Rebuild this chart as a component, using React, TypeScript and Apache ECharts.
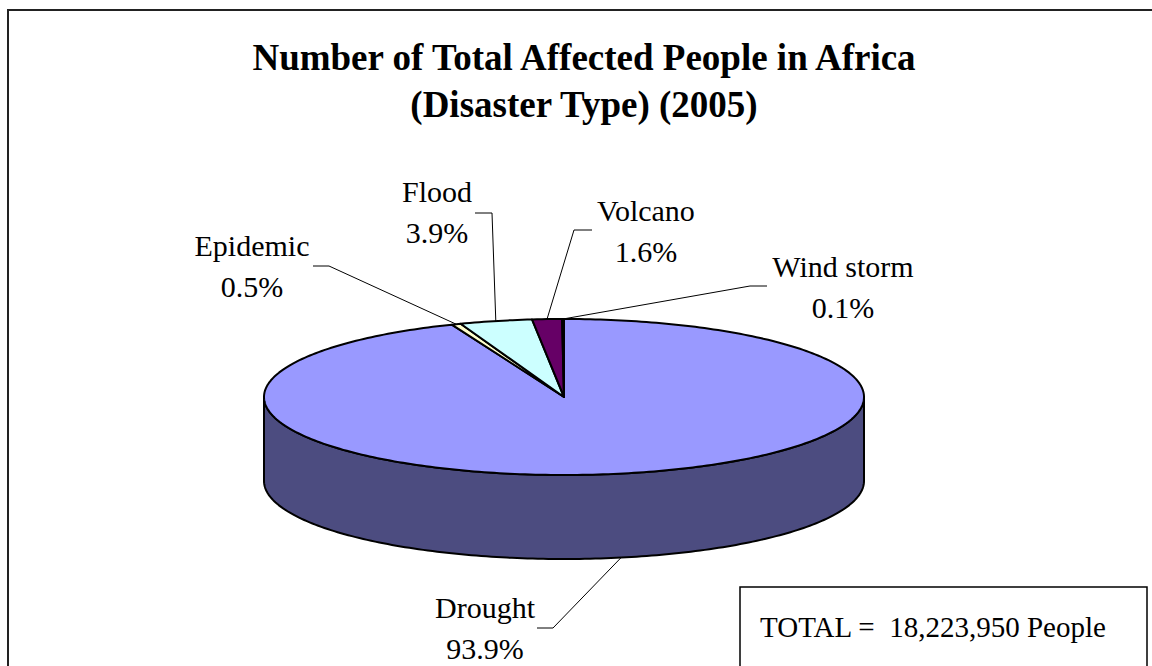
import React, { useEffect, useRef } from "react";
import * as echarts from "echarts";

// ---- data ----
const categories = ["Drought", "Epidemic", "Flood", "Volcano", "Wind storm"];
const shares = [93.9, 0.5, 3.9, 1.6, 0.1];
const totalPeople = 18223950;
const titleLines = ["Number of Total Affected People in Africa", "(Disaster Type) (2005)"];

// ---- styles / layout ----
const topColors = ["#9999FF", "#FFFFCC", "#CCFFFF", "#660066", "#FF8080"];
const sideColors = ["#4C4C80", "#80806A", "#6A8080", "#330033", "#804040"];
const CX = 564, CY = 397, RX = 300, RY = 78, DEPTH = 84;
const labelCenters = [[485, 628], [252, 266], [437, 212], [646, 231], [843, 287]];
const leaderStarts = [[537, 628], [313, 266], [475, 213], [592, 230], [767, 286]];
const leaderElbows = [[553, 628], [329, 266], [492, 213], [574, 230], [750, 286]];
const SERIF = "Liberation Serif";

export default function App() {
  const ref = useRef<HTMLDivElement>(null);
  useEffect(() => {
    if (!ref.current) return;
    const chart = echarts.init(ref.current, null, { renderer: "svg" });
    const sum = shares.reduce((a, b) => a + b, 0);
    const cum: number[] = [];
    let acc = 0;
    shares.forEach((v) => { cum.push(acc); acc += v; });

    const pt = (t: number, dz: number) => [CX + RX * Math.sin(t), CY - RY * Math.cos(t) + dz];
    const arc = (a0: number, a1: number, dz: number) => {
      const pts: number[][] = [];
      const n = Math.max(2, Math.ceil(((a1 - a0) * 180) / Math.PI));
      for (let k = 0; k <= n; k++) pts.push(pt(a0 + ((a1 - a0) * k) / n, dz));
      return pts;
    };

    const renderItem = (params: any, api: any) => {
      const i = params.dataIndex;
      const v = api.value(0);
      const a0 = (cum[i] / sum) * Math.PI * 2;
      const a1 = a0 + (v / sum) * Math.PI * 2;
      const children: any[] = [];
      const s = Math.max(a0, Math.PI / 2);
      const e = Math.min(a1, (Math.PI * 3) / 2);
      if (e > s) {
        const topArc = arc(s, e, 0);
        const botArc = arc(s, e, DEPTH).reverse();
        children.push({
          type: "polygon",
          shape: { points: topArc.concat(botArc) },
          style: { fill: sideColors[i], stroke: "#000", lineWidth: 2, lineJoin: "round" },
        });
      }
      children.push({
        type: "polygon",
        shape: { points: [[CX, CY]].concat(arc(a0, a1, 0)) },
        style: { fill: topColors[i], stroke: "#000", lineWidth: 2, lineJoin: "round" },
      });
      const mid = (a0 + a1) / 2;
      const anchor = pt(mid, Math.cos(mid) < 0 ? DEPTH : 0);
      children.push({
        type: "polyline",
        shape: { points: [leaderStarts[i], leaderElbows[i], anchor] },
        style: { stroke: "#000", lineWidth: 1, fill: null },
      });
      children.push({
        type: "text",
        style: {
          text: categories[i] + "\n" + ((v / sum) * 100).toFixed(1) + "%",
          x: labelCenters[i][0],
          y: labelCenters[i][1],
          align: "center",
          verticalAlign: "middle",
          font: "normal 30px " + SERIF,
          fontFamily: SERIF,
          fontSize: 30,
          lineHeight: 41,
          fill: "#000",
        },
      });
      return { type: "group", children };
    };

    chart.setOption({
      animation: false,
      backgroundColor: "#fff",
      textStyle: { fontFamily: SERIF },
      title: {
        text: titleLines.join("\n"),
        left: 579,
        top: 29,
        textAlign: "center",
        textStyle: { fontFamily: SERIF, fontWeight: "bold", fontSize: 37, lineHeight: 47, color: "#000" },
      },
      series: [
        {
          type: "custom",
          coordinateSystem: "none",
          renderItem,
          data: shares.map((v, i) => ({ name: categories[i], value: [v] })),
        },
      ],
      graphic: [
        {
          type: "polyline",
          shape: { points: [[8, 666], [8, 10], [1152, 10]] },
          style: { stroke: "#222", lineWidth: 2, fill: null },
        },
        {
          type: "rect",
          shape: { x: 740, y: 587, width: 407, height: 120 },
          style: { fill: "#fff", stroke: "#000", lineWidth: 1.5 },
        },
        {
          type: "text",
          style: {
            text: "TOTAL =  " + totalPeople.toLocaleString("en-US") + " People",
            x: 760,
            y: 627,
            verticalAlign: "middle",
            fontFamily: SERIF,
            fontSize: 29,
            fill: "#000",
          },
        },
      ],
    });
    return () => chart.dispose();
  }, []);
  return <div ref={ref} style={{ position: "fixed", left: 0, top: 0, width: 1152, height: 666 }} />;
}
